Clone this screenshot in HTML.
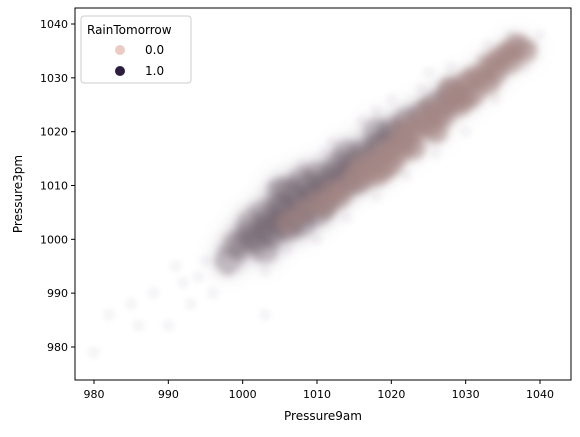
<!DOCTYPE html>
<html><head><meta charset="utf-8"><style>
body{margin:0;background:#fff;font-family:"Liberation Sans","DejaVu Sans",sans-serif;}
</style></head><body>
<svg id="chart" width="580" height="432" xmlns="http://www.w3.org/2000/svg" font-family="DejaVu Sans, Liberation Sans, sans-serif">
<defs><clipPath id="clip"><rect x="75" y="8" width="496" height="372"/></clipPath>
<filter id="blurA" x="-20%" y="-20%" width="140%" height="140%"><feGaussianBlur stdDeviation="4"/></filter>
<filter id="blurH" x="-20%" y="-20%" width="140%" height="140%"><feGaussianBlur stdDeviation="7"/></filter>
<filter id="blurB" x="-20%" y="-20%" width="140%" height="140%"><feGaussianBlur stdDeviation="2"/></filter></defs>
<g clip-path="url(#clip)">
<g id="haze" filter="url(#blurB)"></g>
<g id="halo" filter="url(#blurH)"></g>
<g id="core1" filter="url(#blurA)"></g>
<g id="core0" filter="url(#blurA)"></g>
</g>
<rect x="75" y="8" width="496" height="372" fill="none" stroke="#000" stroke-width="1"/>
<g id="axes"></g>
<text x="323" y="420" font-size="12" text-anchor="middle">Pressure9am</text>
<text x="22" y="194" font-size="12" text-anchor="middle" transform="rotate(-90 22 194)">Pressure3pm</text>
<g>
<rect x="81" y="16" width="110" height="67" rx="3" fill="#fff" fill-opacity="0.8" stroke="#ccc"/>
<text x="87" y="34" font-size="12">RainTomorrow</text>
<circle cx="120" cy="50" r="5" fill="#ebcbc2"/>
<text x="145" y="54" font-size="12">0.0</text>
<circle cx="120" cy="71" r="5" fill="#2d1e3e"/>
<text x="145" y="75" font-size="12">1.0</text>
</g>
</svg>
<script>
const xTicks=[980,990,1000,1010,1020,1030,1040];
const yTicks=[980,990,1000,1010,1020,1030,1040];
const hazeX=[980,982,985,988,990,992,993,995,996,997,998,999,1000,1001,1003,1004,1006,1008,1010,1012,1014,1016,1018,1020,1022,1024,1026,1028,1030,1032,1034,1036,1038,1040,986,1003,991,1011,1018,1025,994,997,1000,1002,1005,1007,1033,1035,1037,1039];
const hazeY=[979,986,988,990,984,992,988,996,990,998,994,1002,996,1006,994,1010,998,1014,1000,1018,1004,1022,1008,1026,1012,1028,1016,1032,1020,1034,1026,1038,1032,1038,984,986,995,1016,1024,1031,993,996,999,997,1008,1011,1036,1031,1037,1036];
const rain1X=[1002,1003,1004,1004,1005,1005,1006,1006,1007,1007,1008,1008,1009,1009,1010,1010,1011,1011,1012,1012,1013,1013,1014,1015,1015,1016,1017,1018,1019,1020,1021,1022,1024,1026,1028,1003,1001,1000,1005,1008,998,999,1001,1003,1006,1010,1014,1018];
const rain1Y=[1000,1002,1001,1004,1003,1006,1002,1005,1004,1008,1006,1003,1007,1010,1008,1005,1010,1007,1012,1009,1011,1014,1012,1014,1011,1016,1015,1017,1018,1020,1019,1022,1023,1025,1027,1005,1001,999,1009,1011,996,999,1003,998,1009,1012,1016,1020];
const rain0X=[1006,1008,1010,1011,1012,1013,1014,1015,1016,1016,1017,1018,1018,1019,1020,1020,1021,1022,1022,1023,1024,1025,1025,1026,1027,1028,1028,1029,1030,1031,1032,1033,1034,1035,1036,1037,1030,1026,1033,1023,1027,1029,1031,1034,1036,1038,1021,1019];
const rain0Y=[1003,1005,1007,1006,1009,1008,1010,1012,1011,1014,1013,1015,1012,1016,1017,1014,1019,1018,1021,1020,1022,1021,1024,1023,1025,1026,1028,1027,1029,1030,1030,1032,1033,1034,1035,1036,1026,1020,1029,1017,1023,1025,1027,1031,1033,1035,1016,1013];
const NS="http://www.w3.org/2000/svg";
const sx=v=>94+(v-980)*446/60;
const sy=v=>347-(v-980)*323/60;
const axes=document.getElementById('axes');
function dot(g,x,y,r,fill,op,name){const c=document.createElementNS(NS,'circle');
c.setAttribute('cx',sx(x));c.setAttribute('cy',sy(y));c.setAttribute('r',r);c.setAttribute('fill',fill);c.setAttribute('fill-opacity',op);


document.getElementById(g).appendChild(c);}
hazeX.forEach((x,i)=>dot('haze',x,hazeY[i],6,'#9a8ea4',0.09,'haze-point'));
rain1X.forEach((x,i)=>dot('halo',x,rain1Y[i],22,'#8a7a90',0.08,'halo-point'));
rain0X.forEach((x,i)=>dot('halo',x,rain0Y[i],18,'#b09a9e',0.07,'halo-point'));
rain1X.forEach((x,i)=>dot('core1',x,rain1Y[i],14,'#6e5e6a',0.35,'rain1-point'));
rain0X.forEach((x,i)=>dot('core0',x,rain0Y[i],12,'#a48684',0.6,'rain0-point'));
xTicks.forEach(t=>{const l=document.createElementNS(NS,'line');l.setAttribute('x1',sx(t));l.setAttribute('x2',sx(t));l.setAttribute('y1',380);l.setAttribute('y2',384);l.setAttribute('stroke','#000');


axes.appendChild(l);
const tx=document.createElementNS(NS,'text');tx.setAttribute('x',sx(t));tx.setAttribute('y',398);tx.setAttribute('font-size','11');tx.setAttribute('text-anchor','middle');tx.textContent=t;


axes.appendChild(tx);});
yTicks.forEach(t=>{const l=document.createElementNS(NS,'line');l.setAttribute('x1',71);l.setAttribute('x2',75);l.setAttribute('y1',sy(t));l.setAttribute('y2',sy(t));l.setAttribute('stroke','#000');


axes.appendChild(l);
const tx=document.createElementNS(NS,'text');tx.setAttribute('x',68);tx.setAttribute('y',sy(t)+4);tx.setAttribute('font-size','11');tx.setAttribute('text-anchor','end');tx.textContent=t;


axes.appendChild(tx);});
</script>
</body></html>
